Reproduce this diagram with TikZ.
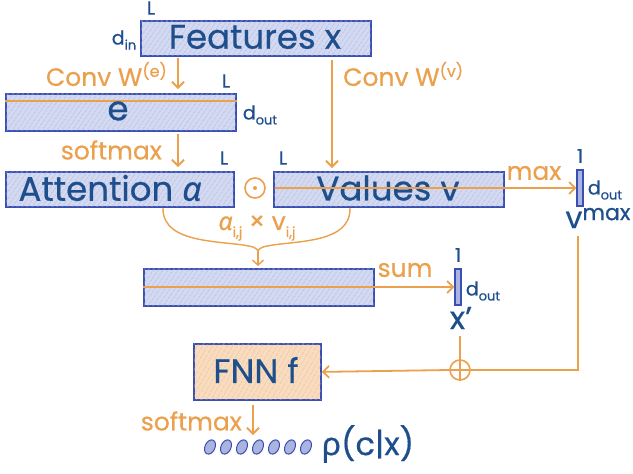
\documentclass[tikz,border=0pt]{standalone}
\usepackage{fontspec}
\setmainfont{Poppins}[FakeBold=0.5]
\newfontfamily\grk{Noto Sans}[FakeBold=0.5]
\usetikzlibrary{arrows.meta,patterns.meta,shapes.geometric}
\definecolor{dblue}{HTML}{1E4F8C}
\definecolor{bblue}{HTML}{3A4FB2}
\definecolor{fblue}{HTML}{D3D9F0}
\definecolor{hblue}{HTML}{A9B4E0}
\definecolor{org}{HTML}{EAA04C}
\definecolor{forg}{HTML}{F8DCC0}
\definecolor{horg}{HTML}{F0B888}
\begin{document}
\begin{tikzpicture}[x=1pt,y=-1pt,
  box/.style={draw=bblue, line width=1.8pt, fill=fblue, inner sep=0pt, text=dblue,
    postaction={pattern={Lines[angle=55,distance=4pt,line width=0.6pt]}, pattern color=hblue}},
  bar/.style={draw=bblue, line width=1.4pt, fill=hblue, inner sep=0pt, minimum width=6pt, minimum height=36pt},
  olab/.style={text=org, inner sep=1pt},
  blab/.style={text=dblue, inner sep=1pt},
  oline/.style={draw=org, line width=1.8pt},
  oarr/.style={oline, -{Straight Barb[length=6pt,width=12pt,line width=1.8pt]}},
  big/.style={font=\fontsize{34}{36}\selectfont},
  mid/.style={font=\fontsize{25}{27}\selectfont},
  sml/.style={font=\fontsize{19}{21}\selectfont},
  dot/.style={draw=bblue, line width=1pt, fill=hblue, ellipse, inner sep=0pt, minimum width=10pt, minimum height=15pt, rotate=-25},
]
\useasboundingbox (0,0) rectangle (633,474);

% Features
\node[box, minimum width=230pt, minimum height=35pt, anchor=north west] (feat) at (140,20) {};
\node[blab, big] (featt) at (255,37) {Features x};
\node[blab, sml] (featL) at (151,8) {L};
\node[blab, sml] (featd) at (124,40) {d\raisebox{-5pt}{\fontsize{13}{13}\selectfont in}};

% e
\node[box, minimum width=230pt, minimum height=37pt, anchor=north west] (ebox) at (5,93) {};
\draw[oline] ([yshift=-8pt]ebox.north west) -- ([yshift=-8pt]ebox.north east);
\node[blab, big] (et) at (118,111) {e};
\node[blab, sml] (eL) at (226,81) {L};
\node[blab, sml] (ed) at (260,115) {d\raisebox{-5pt}{\fontsize{13}{13}\selectfont out}};

% Attention
\node[box, minimum width=228pt, minimum height=35pt, anchor=north west] (att) at (5,171) {};
\node[blab, big] (attt) at (110,188) {Attention {\grk\itshape α}};
\node[blab, sml] (attL) at (224,158) {L};

% odot
\node[draw=org, line width=1.6pt, circle, minimum size=20pt, inner sep=0pt] (odot) at (255,188) {};
\fill[org] (odot.center) circle (2pt);

% Values
\node[box, minimum width=230pt, minimum height=35pt, anchor=north west] (val) at (273,171) {};
\node[blab, big] (valt) at (388,188) {Values v};
\node[blab, sml] (valL) at (283,158) {L};

% vmax bar
\node[bar] (vmax) at (580,188) {};
\node[blab, sml] (vmax1) at (580,156) {1};
\node[blab, sml] (vmaxd) at (605,190) {d\raisebox{-5pt}{\fontsize{13}{13}\selectfont out}};
\node[blab, font=\fontsize{30}{32}\selectfont] (vmaxt) at (598,218) {v\raisebox{8pt}{\fontsize{22}{22}\selectfont max}};

% sum box
\node[box, minimum width=230pt, minimum height=37pt, anchor=north west] (sumb) at (143,268) {};
\node[bar] (xp) at (458,287) {};
\node[blab, sml] (xp1) at (458,255) {1};
\node[blab, sml] (xpd) at (483,291) {d\raisebox{-5pt}{\fontsize{13}{13}\selectfont out}};
\node[blab, font=\fontsize{32}{34}\selectfont] (xpt) at (461,318) {x’};

% FNN
\node[draw=bblue, line width=1.8pt, fill=forg, text=dblue, big, minimum width=127pt, minimum height=56pt, anchor=north west, inner sep=0pt,
  postaction={pattern={Lines[angle=60,distance=4pt,line width=0.7pt]}, pattern color=horg}] (fnn) at (193,343) {};
\node[blab, big] (fnnt) at (256,370) {FNN f};

% oplus
\node[draw=org, line width=1.6pt, circle, minimum size=20pt, inner sep=0pt] (oplus) at (460,370) {};
\draw[org, line width=1.6pt] (oplus.north) -- (oplus.south) (oplus.west) -- (oplus.east);

% output dots
\foreach \i in {0,...,6} {
  \node[dot] (d\i) at (210+\i*16,447) {};
}
\node[blab, font=\fontsize{32}{34}\selectfont] (rho) at (368,444) {{\grk ρ}(c|x)};

% Arrows and labels
\coordinate (a1s) at (178,58);
\coordinate (a1e) at (178,89);
\draw[oarr] (a1s) -- (a1e);
\node[olab, mid, anchor=east] (convE) at (168,74) {Conv W\raisebox{9pt}{\fontsize{16}{16}\selectfont (e)}};

\coordinate (a2s) at (332,60);
\coordinate (a2e) at (332,168);
\draw[oarr] (a2s) -- (a2e);
\node[olab, mid, anchor=west] (convV) at (342,74) {Conv W\raisebox{9pt}{\fontsize{16}{16}\selectfont (v)}};

\coordinate (a3s) at (178,134);
\coordinate (a3e) at (178,167);
\draw[oarr] (a3s) -- (a3e);
\node[olab, mid, anchor=east] (sm1) at (163,150) {softmax};

% max
\coordinate (mxs) at (275,188);
\draw[oarr] (mxs) -- (vmax.west);
\node[olab, mid] (mx) at (534,173) {max};

% brace
\coordinate (brl) at (163,208);
\coordinate (brr) at (350,208);
\coordinate (brc) at (258,251);
\coordinate (brt) at (258,266);
\draw[oline, line width=1.4pt] (brl) .. controls (162,246) and (228,240) .. (253,247) .. controls (256,248) and (258,250) .. (brc);
\draw[oline, line width=1.4pt] (brr) .. controls (351,246) and (288,240) .. (263,247) .. controls (260,248) and (258,250) .. (brc);
\draw[oline, line width=1.4pt, -{Straight Barb[length=5pt,width=11pt,line width=1.4pt]}] (brc) -- (brt);
\node[olab, font=\fontsize{25}{27}\selectfont] (alv) at (257,228) {{\grk\itshape α}\raisebox{-7pt}{\fontsize{14}{14}\selectfont i,j} × v\raisebox{-7pt}{\fontsize{14}{14}\selectfont i,j}};

% sum
\coordinate (sms) at (143,287);
\draw[oarr] (sms) -- (xp.west);
\node[olab, mid] (smt) at (405,270) {sum};

% x' to oplus, vmax to oplus, oplus to FNN
\coordinate (vcorner) at (578,370);
\coordinate (vtop) at (578,236);
\coordinate (xtop) at (460,336);
\draw[oline] (xtop) -- (oplus.north);
\draw[oline] (vtop) -- (vcorner) -- (oplus.east);
\draw[oarr] (oplus.west) -- (fnn.east);

% softmax 2
\coordinate (a4s) at (253,405);
\coordinate (a4e) at (253,435);
\draw[oarr] (a4s) -- (a4e);
\node[olab, mid, anchor=east] (sm2) at (243,421) {softmax};
\end{tikzpicture}
\end{document}
